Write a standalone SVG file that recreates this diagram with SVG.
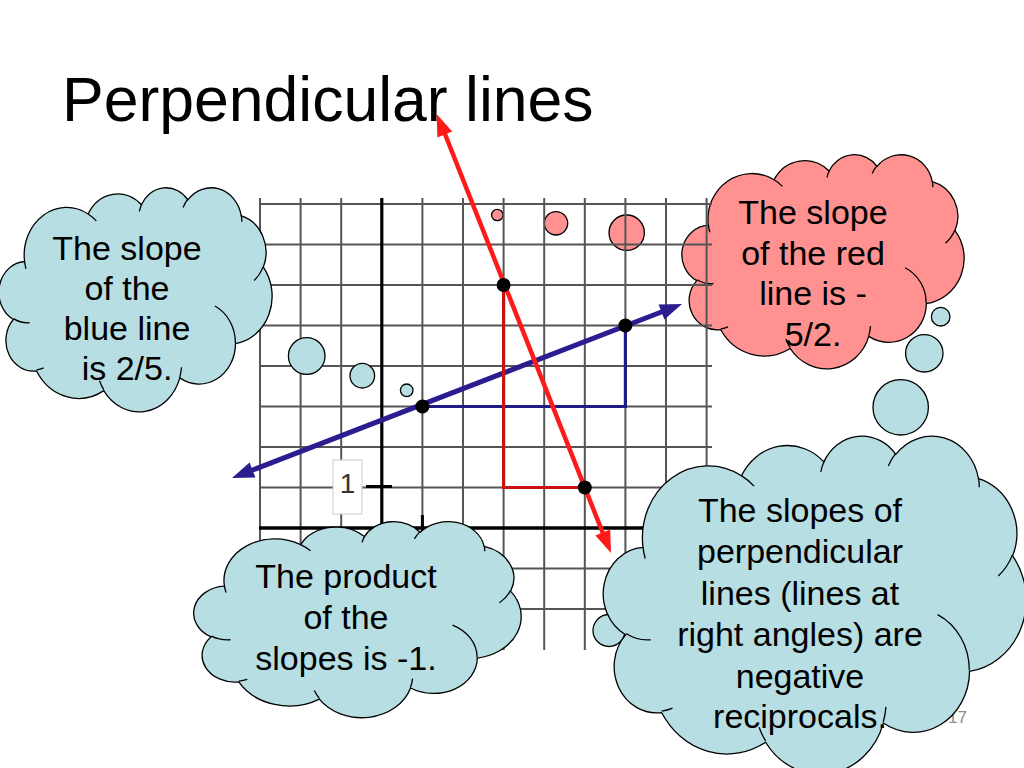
<svg xmlns="http://www.w3.org/2000/svg" xmlns:xlink="http://www.w3.org/1999/xlink" width="1024" height="768" viewBox="0 0 1024 768">
<style>
.txt{font-family:"Liberation Sans",Arial,sans-serif;font-size:34px;fill:#000;text-anchor:middle}
.title{font-family:"Liberation Sans",Arial,sans-serif;font-size:62.5px;fill:#000}
.grid line{stroke:#555;stroke-width:2}
.blueC{fill:#B7DEE2;stroke:#000;stroke-width:1.3}
.pinkC{fill:#FF9191;stroke:#000;stroke-width:1.3}
.dot{fill:#000}
</style>
<defs>
<g id="cloud">
<path vector-effect="non-scaling-stroke" d="M3900 14370 A6753 9190 0 0 1 14005 5201 A5333 7267 0 0 1 22457 3433 A4365 5945 0 0 1 29835 2485 A4857 6595 0 0 1 38320 5579 A5333 7273 0 0 1 41821 15463 A6775 9220 0 0 1 37407 30207 A5785 7867 0 0 1 28558 36816 A6752 9215 0 0 1 16482 39268 A7720 10543 0 0 1 5806 35474 A4360 5918 0 0 1 2117 25549 A4345 5945 0 0 1 3900 14370 Z"/>
<path vector-effect="non-scaling-stroke" fill="none" d="M4693 26177 A4345 5945 0 0 1 2159 25379 M6928 34899 A4360 5918 0 0 1 5819 35281 M16478 39090 A6752 9215 0 0 1 15810 37350 M28827 34751 A6752 9215 0 0 1 28561 36659 M34129 22954 A5785 7867 0 0 1 37381 30090 M41798 15354 A5333 7273 0 0 1 40350 18030 M38324 5426 A4857 6595 0 0 1 38401 6691 M29078 3952 A4857 6595 0 0 1 29820 2340 M22141 4720 A4365 5945 0 0 1 22500 3330 M14000 5192 A6753 9190 0 0 1 15301 6541 M4127 15789 A6753 9190 0 0 1 3900 14371"/>
</g>
</defs>
<rect width="1024" height="768" fill="#fff"/>
<text id="title" class="title" x="62" y="121">Perpendicular lines</text>

<g id="cloud-red">
<use xlink:href="#cloud" href="#cloud" class="pinkC" transform="translate(683,154) scale(0.0065046,0.0049537)"/>
<circle class="pinkC" cx="497.3" cy="215" r="5.7"/>
<circle class="pinkC" cx="556" cy="223.3" r="11.7"/>
<circle class="pinkC" cx="626.7" cy="232.7" r="17.7"/>
<text class="txt" x="813" y="224">The slope</text>
<text class="txt" x="813" y="265">of the red</text>
<text class="txt" x="813" y="305">line is -</text>
<text class="txt" x="813" y="346">5/2.</text>
</g>

<g id="grid" class="grid">
<line x1="260" y1="198" x2="260" y2="650"/>
<line x1="300.6" y1="198" x2="300.6" y2="650"/>
<line x1="341.2" y1="198" x2="341.2" y2="650"/>
<line x1="422.4" y1="198" x2="422.4" y2="650"/>
<line x1="463" y1="198" x2="463" y2="650"/>
<line x1="503.6" y1="198" x2="503.6" y2="650"/>
<line x1="544.2" y1="198" x2="544.2" y2="650"/>
<line x1="584.8" y1="198" x2="584.8" y2="650"/>
<line x1="625.4" y1="198" x2="625.4" y2="650"/>
<line x1="666" y1="198" x2="666" y2="650"/>
<line x1="706.6" y1="198" x2="706.6" y2="650"/>
<line x1="259" y1="204" x2="712" y2="204"/>
<line x1="259" y1="244.5" x2="712" y2="244.5"/>
<line x1="259" y1="285" x2="712" y2="285"/>
<line x1="259" y1="325.5" x2="712" y2="325.5"/>
<line x1="259" y1="366" x2="712" y2="366"/>
<line x1="259" y1="406.5" x2="712" y2="406.5"/>
<line x1="259" y1="447" x2="712" y2="447"/>
<line x1="259" y1="487.5" x2="712" y2="487.5"/>
<line x1="259" y1="568.5" x2="712" y2="568.5"/>
<line x1="259" y1="609" x2="712" y2="609"/>
</g>
<g id="axes" stroke="#000">
<line x1="381.8" y1="198" x2="381.8" y2="650" stroke-width="3.2"/>
<line x1="259" y1="528" x2="712" y2="528" stroke-width="3.5"/>
<line x1="366" y1="486.5" x2="392" y2="486.5" stroke-width="3"/>
<line x1="422.4" y1="515" x2="422.4" y2="541" stroke-width="3"/>
<rect x="333" y="460" width="29" height="54" fill="#fff" stroke="#ccc" stroke-width="1"/>
<text x="347.5" y="493" font-family="Liberation Sans, Arial, sans-serif" font-size="28" fill="#333" stroke="none" text-anchor="middle">1</text>
</g>

<g id="cloud-blue-left">
<use xlink:href="#cloud" href="#cloud" class="blueC" transform="translate(0,187) scale(0.0062963,0.0051852)"/>
<circle class="blueC" cx="306.7" cy="356" r="18.3"/>
<circle class="blueC" cx="362.3" cy="375.7" r="12.3"/>
<circle class="blueC" cx="406.7" cy="390.3" r="6.3"/>
<text class="txt" x="127" y="260">The slope</text>
<text class="txt" x="127" y="300">of the</text>
<text class="txt" x="127" y="340">blue line</text>
<text class="txt" x="127" y="380">is 2/5.</text>
</g>

<g id="connectors">
<polyline points="422.4,406.5 625.4,406.5 625.4,325.5" fill="none" stroke="#1E1A86" stroke-width="3.2"/>
<line x1="250" y1="471" x2="664" y2="311" stroke="#2B1D8F" stroke-width="5"/>
<polygon points="682,304 664.4,319.4 658.6,304.4" fill="#2B1D8F"/>
<polygon points="232,478 255.4,477.6 249.6,462.6" fill="#2B1D8F"/>
<polyline points="503.6,285 503.6,487.5 584.8,487.5" fill="none" stroke="#CC1111" stroke-width="3.2"/>
<line x1="443" y1="129" x2="604" y2="536" stroke="#FF1A1A" stroke-width="4.5"/>
<polygon points="436.6,114 452.2,131.4 437.4,137.4" fill="#FF1A1A"/>
<polygon points="611,553 610.2,529.6 595.4,535.6" fill="#FF1A1A"/>
<circle class="dot" cx="422.4" cy="406.5" r="7"/>
<circle class="dot" cx="625.4" cy="325.5" r="7"/>
<circle class="dot" cx="503.6" cy="285" r="7"/>
<circle class="dot" cx="584.8" cy="487.5" r="7"/>
</g>

<text id="pagenum" x="948" y="723" font-family="Liberation Sans, Arial, sans-serif" font-size="17" fill="#8c8c8c">17</text>

<g id="cloud-product">
<use xlink:href="#cloud" href="#cloud" class="blueC" transform="translate(195,521) scale(0.0075463,0.0045370)"/>
<text class="txt" x="346" y="588">The product</text>
<text class="txt" x="346" y="629">of the</text>
<text class="txt" x="346" y="670">slopes is -1.</text>
</g>

<g id="cloud-perpendicular">
<circle class="blueC" cx="940.7" cy="316.7" r="9.3"/>
<circle class="blueC" cx="924.3" cy="353.3" r="18.7"/>
<circle class="blueC" cx="900.7" cy="407.3" r="27.7"/>
<circle class="blueC" cx="609" cy="630.5" r="16"/>
<use xlink:href="#cloud" href="#cloud" class="blueC" transform="translate(605,435) scale(0.0097454,0.0078241)"/>
<text class="txt" x="800" y="522">The slopes of</text>
<text class="txt" x="800" y="563">perpendicular</text>
<text class="txt" x="800" y="605">lines (lines at</text>
<text class="txt" x="800" y="646">right angles) are</text>
<text class="txt" x="800" y="688">negative</text>
<text class="txt" x="800" y="728">reciprocals.</text>
</g>
</svg>
